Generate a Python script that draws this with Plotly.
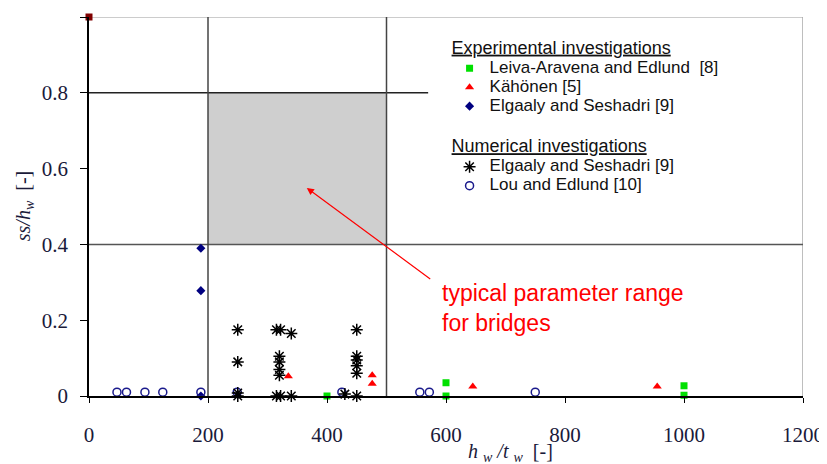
import plotly.graph_objects as go

# ---------------- data ----------------
leiva_x = [400, 600, 600, 1000, 1000]
leiva_y = [0.0, 0.035, 0.0, 0.027, 0.002]

kahonen_x = [335, 476, 476, 645, 955]
kahonen_y = [0.052, 0.055, 0.032, 0.025, 0.025]

elg_exp_x = [188, 188, 188]
elg_exp_y = [0.39, 0.278, 0.0]

elg_num_x = [250, 250, 250, 250, 315, 322, 340, 320, 320, 320, 320, 315, 322, 340,
             450, 450, 450, 450, 450, 450, 430]
elg_num_y = [0.175, 0.09, 0.008, 0.0, 0.175, 0.175, 0.165, 0.105, 0.09, 0.07, 0.055,
             0.0, 0.0, 0.0, 0.175, 0.105, 0.095, 0.08, 0.06, 0.0, 0.005]

lou_x = [47, 63, 94, 124, 188, 249, 425, 556, 572, 750]
lou_y = [0.01, 0.01, 0.01, 0.01, 0.01, 0.01, 0.01, 0.01, 0.01, 0.01]

extra_x = [0]
extra_y = [1]

range_x = [200, 500]
range_y = [0.4, 0.8]

x_ticks = [0, 200, 400, 600, 800, 1000, 1200]
y_ticks = [0, 0.2, 0.4, 0.6, 0.8, 1]

arrow_head = (366, 0.549)
arrow_tail = (576, 0.306)

SERIF = "Liberation Serif, Times New Roman, serif"
SANS = "Liberation Sans, Arial, sans-serif"


def nm(s):
    return '<span style="font-size:17px">' + s + '</span>'


fig = go.Figure()

fig.add_trace(go.Scatter(x=leiva_x, y=leiva_y, mode="markers", name=nm("Leiva-Aravena and Edlund  [8]"),
                         marker=dict(symbol="square", size=7, color="#00e000"),
                         legend="legend", cliponaxis=False))
fig.add_trace(go.Scatter(x=kahonen_x, y=kahonen_y, mode="markers", name=nm("Kähönen [5]"),
                         marker=dict(symbol="triangle-up", size=8, color="#ff0000"),
                         legend="legend", cliponaxis=False))
fig.add_trace(go.Scatter(x=elg_exp_x, y=elg_exp_y, mode="markers", name=nm("Elgaaly and Seshadri [9]"),
                         marker=dict(symbol="diamond", size=7, color="#000080"),
                         legend="legend", cliponaxis=False))
fig.add_trace(go.Scatter(x=lou_x, y=lou_y, mode="markers", name=nm("Lou and Edlund [10]"),
                         marker=dict(symbol="circle-open", size=8, color="#1a1a8c", line=dict(width=1.5)),
                         legend="legend2", cliponaxis=False))
fig.add_trace(go.Scatter(x=elg_num_x, y=elg_num_y, mode="markers", name=nm("Elgaaly and Seshadri [9]"),
                         marker=dict(symbol="asterisk-open", size=10, color="#000000", line=dict(width=1.5, color="#000000")),
                         legend="legend2", cliponaxis=False))
fig.add_trace(go.Scatter(x=extra_x, y=extra_y, mode="markers", showlegend=False,
                         marker=dict(symbol="square", size=7, color="#800000"), cliponaxis=False))

shapes = [
    dict(type="rect", x0=range_x[0], x1=range_x[1], y0=range_y[0], y1=range_y[1],
         fillcolor="#cfcfcf", line=dict(width=0), layer="below"),
    dict(type="line", x0=0, x1=1200, y0=1, y1=1, line=dict(color="#9a9a9a", width=1.2), layer="below"),
    dict(type="line", x0=1200, x1=1200, y0=0, y1=1, line=dict(color="#a8a8a8", width=1.5), layer="below"),
    dict(type="line", x0=0, x1=1200, y0=0.4, y1=0.4, line=dict(color="#555555", width=1.5), layer="below"),
    dict(type="line", x0=0, x1=570, y0=0.8, y1=0.8, line=dict(color="#222222", width=1.5), layer="below"),
    dict(type="line", x0=200, x1=200, y0=0, y1=1, line=dict(color="#444444", width=1.5), layer="below"),
    dict(type="line", x0=500, x1=500, y0=0, y1=1, line=dict(color="#444444", width=1.5), layer="below"),
]

annotations = [
    dict(x=arrow_head[0], y=arrow_head[1], ax=arrow_tail[0], ay=arrow_tail[1],
         xref="x", yref="y", axref="x", ayref="y", text="", showarrow=True,
         arrowhead=2, arrowsize=1.2, arrowwidth=1.2, arrowcolor="#ff0000"),
    dict(x=590, y=0.2335, xref="x", yref="y", xanchor="left", yanchor="middle", align="left",
         text="typical parameter range<br>for bridges", showarrow=False,
         font=dict(family=SANS, size=23, color="#ff0000")),
    dict(x=709, y=-0.148, xref="x", yref="paper", xanchor="center", yanchor="middle",
         text="<i>h</i> <sub><i>w</i></sub> <i>/t</i> <sub><i>w</i></sub>  [-]", showarrow=False,
         font=dict(family=SERIF, size=20, color="#1a1a3a")),
    dict(x=-0.09, y=0.5, xref="paper", yref="paper", xanchor="center", yanchor="middle",
         text="<i>ss/h</i><sub><i>w</i></sub>  [-]", textangle=-90, showarrow=False,
         font=dict(family=SERIF, size=20, color="#1a1a3a")),
]

# the page body adds an 8px margin, so the figure is 8px smaller and margins shifted
fig.update_layout(
    width=819, height=456,
    margin=dict(l=81, r=24, t=9, b=68, autoexpand=False),
    paper_bgcolor="white", plot_bgcolor="white",
    shapes=shapes, annotations=annotations,
    showlegend=True,
    legend=dict(x=0.505, y=0.965, xanchor="left", yanchor="top", bgcolor="rgba(0,0,0,0)",
                font=dict(family=SANS, size=12, color="#111111"),
                title=dict(text="<u>Experimental investigations</u>", side="top",
                           font=dict(family=SANS, size=18, color="#111111")),
                traceorder="normal", itemsizing="trace"),
    legend2=dict(x=0.505, y=0.705, xanchor="left", yanchor="top", bgcolor="rgba(0,0,0,0)",
                 font=dict(family=SANS, size=12, color="#111111"),
                 title=dict(text="<u>Numerical investigations</u>", side="top",
                            font=dict(family=SANS, size=18, color="#111111")),
                 traceorder="reversed", itemsizing="trace"),
    xaxis=dict(range=[0, 1200], tickvals=x_ticks, ticktext=[str(v) for v in x_ticks],
               showgrid=False, zeroline=False, showline=True, linecolor="#000000", linewidth=1.5,
               ticks="outside", ticklen=5, tickcolor="#000000", tickwidth=1,
               ticklabelstandoff=14, automargin=False,
               tickfont=dict(family=SERIF, size=21, color="#1a1a3a")),
    yaxis=dict(range=[0, 1], tickvals=y_ticks, ticktext=[("%g" % v) for v in y_ticks],
               showgrid=False, zeroline=False, showline=True, linecolor="#000000", linewidth=1.5,
               ticks="outside", ticklen=7, tickcolor="#000000", tickwidth=1,
               ticklabelstandoff=8, automargin=False,
               tickfont=dict(family=SERIF, size=21, color="#1a1a3a")),
)

fig.write_html("out.html")
